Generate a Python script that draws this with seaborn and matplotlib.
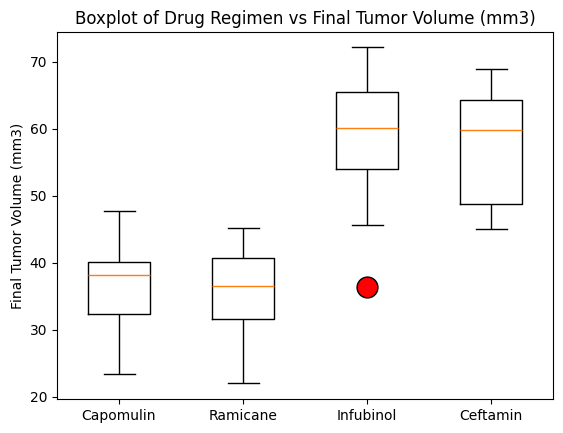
import pandas as pd
import matplotlib
matplotlib.use("Agg")
import matplotlib.pyplot as plt
import seaborn as sns

regimens = ["Capomulin", "Ramicane", "Infubinol", "Ceftamin"]

# final tumor volumes (mm3), picked so the box stats match the picture
capomulin = [23.34, 32.38, 38.13, 40.16, 47.69]
ramicane = [22.05, 31.56, 36.56, 40.66, 45.22]
infubinol = [36.32, 45.70, 54.05, 57.50, 60.17, 62.80, 65.53, 70.10, 72.23]
ceftamin = [45.00, 48.72, 59.85, 64.30, 68.92]

volumes = [capomulin, ramicane, infubinol, ceftamin]

rows = []
for name, vals in zip(regimens, volumes):
    for v in vals:
        rows.append({"Drug Regimen": name, "Final Tumor Volume (mm3)": v})
df = pd.DataFrame(rows)

fig, ax = plt.subplots(figsize=(5.63, 4.33), dpi=100)
fig.subplots_adjust(left=57/563, right=553/563, top=1-32/433, bottom=1-399/433)

sns.boxplot(data=df, x="Drug Regimen", y="Final Tumor Volume (mm3)", order=regimens,
            ax=ax, width=0.5, fill=False, color="black", linewidth=1,
            medianprops=dict(color="#ff7f0e"),
            flierprops=dict(marker="o", markerfacecolor="red", markeredgecolor="black",
                            markersize=15))

ax.set_ylim(19.66, 74.43)
ax.set_xlim(-0.5, 3.5)
ax.set_xlabel("")
ax.set_ylabel("Final Tumor Volume (mm3)")
ax.set_title("Boxplot of Drug Regimen vs Final Tumor Volume (mm3)")

plt.savefig("out.png", dpi=100)
